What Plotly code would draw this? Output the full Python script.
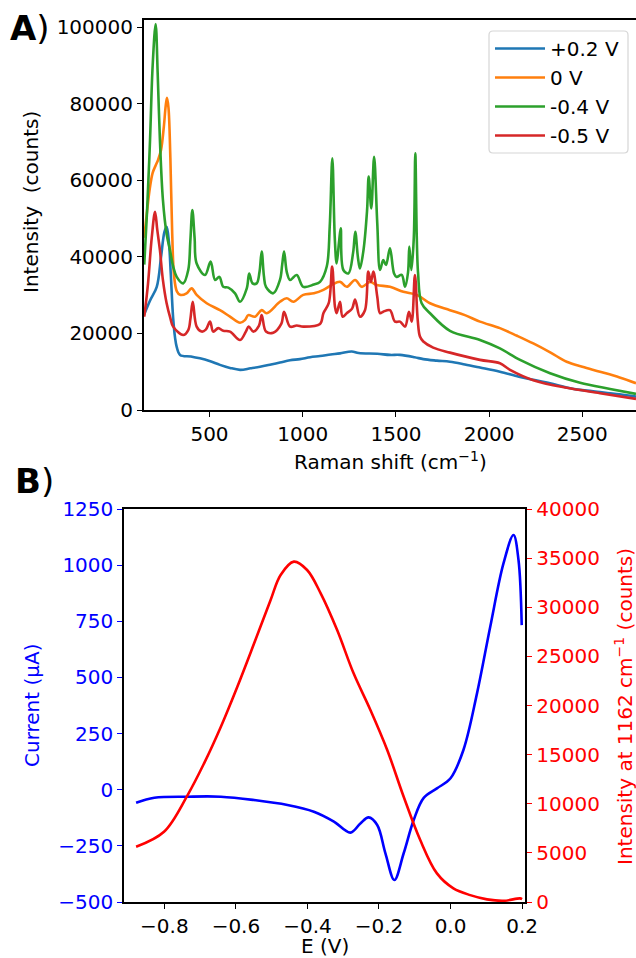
import plotly.graph_objects as go

# ---------------- Panel A data (Raman spectra) ----------------
shift_blue = [150, 180, 217, 240, 258, 270, 282, 292, 305, 315, 324, 342, 400, 449, 500, 556, 610, 664,
              720, 771, 830, 878, 932, 985, 1040, 1093, 1150, 1200, 1263, 1300, 1400, 1468, 1522,
              1600, 1647, 1720, 1790, 1870, 1951, 2058, 2160, 2237, 2327, 2416, 2500, 2595, 2700, 2788]
int_blue = [25000, 28500, 32200, 40000, 46500, 47900, 44000, 35800, 24000, 19000, 16500, 14400, 14000,
            13500, 12800, 11800, 11000, 10500, 10900, 11300, 11900, 12400, 13000, 13300, 13800, 14100,
            14500, 14800, 15300, 14900, 14700, 14400, 14400, 13800, 13300, 12900, 12600, 11900, 11100,
            10000, 8700, 7900, 7000, 5900, 5200, 4700, 4100, 3500]

shift_orange = [150, 165, 180, 195, 211, 225, 240, 255, 265, 272, 280, 290, 300, 310, 325, 342, 377, 404,
                431, 485, 556, 610, 664, 690, 708, 744, 780, 807, 878, 914, 950, 1003, 1060, 1111, 1156,
                1200, 1236, 1281, 1317, 1361, 1397, 1468, 1540, 1612, 1683, 1790, 1870, 1951, 2058, 2150,
                2237, 2330, 2416, 2500, 2595, 2700, 2788]
int_orange = [45000, 52000, 58000, 62000, 63900, 65500, 68000, 74000, 79500, 81600, 79000, 66000, 46000,
              35000, 31000, 30100, 30500, 31800, 30100, 27900, 26100, 24400, 22800, 23500, 24800, 24400,
              26100, 25300, 28300, 29200, 28300, 30100, 30500, 31400, 32700, 33500, 32200, 34000, 32200,
              33500, 32700, 32200, 30900, 30100, 27900, 26100, 24800, 23100, 21400, 19400, 17400, 15000,
              12600, 11300, 10000, 8500, 7000]

shift_green = [150, 165, 181, 195, 211, 222, 234, 250, 270, 288, 305, 324, 359, 386, 397, 408, 420, 431,
               476, 506, 530, 553, 574, 601, 637, 664, 700, 713, 731, 753, 768, 780, 792, 803, 842, 878,
               890, 900, 915, 932, 968, 1003, 1060, 1093, 1129, 1145, 1159, 1172, 1182, 1195, 1204, 1218,
               1245, 1270, 1282, 1296, 1307, 1325, 1345, 1354, 1368, 1383, 1400, 1415, 1432, 1447, 1468,
               1490, 1504, 1531, 1549, 1565, 1572, 1583, 1596, 1604, 1612, 1619, 1638, 1683, 1790, 1951,
               2058, 2166, 2327, 2488, 2649, 2788]
int_green = [38000, 52000, 70600, 90000, 100900, 88000, 70600, 55000, 46000, 41800, 37500, 34800, 33100,
             36600, 44000, 52300, 45000, 38300, 35300, 38800, 34000, 34800, 32200, 32000, 30500, 28300,
             31800, 35700, 33100, 33100, 36000, 41400, 35000, 32200, 30500, 34000, 38000, 41400, 36000,
             34000, 35300, 32200, 32800, 33500, 37500, 48000, 65800, 45000, 38300, 44000, 47500, 36600,
             35700, 41000, 46600, 40000, 37000, 41400, 52000, 61000, 52700, 66200, 48800, 36600, 39200,
             37900, 42300, 35700, 34800, 35300, 32200, 36000, 42700, 36600, 45000, 67100, 45000, 35700,
             27900, 25300, 20700, 18300, 16100, 13100, 9600, 7100, 5500, 4200]

shift_red = [150, 170, 190, 208, 220, 234, 250, 270, 290, 305, 359, 386, 398, 410, 431, 458, 480, 503,
             520, 547, 574, 610, 664, 695, 710, 735, 765, 780, 803, 842, 885, 900, 932, 968, 1003, 1093,
             1111, 1140, 1158, 1173, 1182, 1200, 1214, 1236, 1265, 1281, 1307, 1334, 1352, 1366, 1379,
             1400, 1415, 1432, 1468, 1495, 1522, 1549, 1570, 1585, 1602, 1617, 1629, 1647, 1700, 1790,
             1951, 2058, 2112, 2237, 2416, 2595, 2788]
int_red = [24400, 33000, 45000, 51800, 47000, 41800, 34000, 27900, 24000, 21800, 19600, 20900, 24000,
           28300, 21800, 20500, 21000, 23100, 20500, 21400, 20700, 20500, 18300, 20500, 21800, 20500,
           22000, 24800, 20500, 20200, 22500, 25700, 21800, 22100, 21800, 22500, 25300, 28000, 37500,
           27000, 25300, 28300, 24400, 25300, 26500, 28900, 24400, 26100, 36200, 33500, 36200, 29600,
           25300, 25700, 26100, 23100, 23100, 21800, 25700, 23100, 35300, 23500, 19200, 17900, 16300,
           15000, 13100, 12200, 10500, 7800, 5800, 4400, 2900]

spectra = [("+0.2 V", shift_blue, int_blue, "#1f77b4"),
           ("0 V", shift_orange, int_orange, "#ff7f0e"),
           ("-0.4 V", shift_green, int_green, "#2ca02c"),
           ("-0.5 V", shift_red, int_red, "#d62728")]

# ---------------- Panel B data ----------------
E_current = [-0.879, -0.828, -0.735, -0.642, -0.549, -0.456, -0.382, -0.326, -0.280, -0.252, -0.229,
             -0.205, -0.182, -0.157, -0.131, -0.103, -0.075, -0.038, 0.0, 0.036, 0.074, 0.111, 0.148,
             0.176, 0.190, 0.199]
current_uA = [-58, -36, -31, -31, -46, -68, -98, -142, -191, -150, -123, -157, -283, -402, -283, -135,
              -36, 6, 51, 177, 429, 726, 1008, 1134, 1023, 733]

E_raman = [-0.879, -0.801, -0.735, -0.689, -0.642, -0.596, -0.549, -0.503, -0.475, -0.438, -0.401,
           -0.363, -0.317, -0.271, -0.224, -0.177, -0.131, -0.085, -0.038, 0.008, 0.055, 0.102, 0.148,
           0.194, 0.200]
intensity_1162 = [5623, 7150, 10885, 14110, 17840, 21910, 26330, 30740, 33280, 34640, 33790, 31420,
                  27680, 23270, 19540, 15470, 10710, 6330, 2910, 1390, 700, 270, 120, 370, 300]

FONT = "DejaVu Sans"
W, H = 636, 958

fig = go.Figure()
for name, xs, ys, col in spectra:
    fig.add_trace(go.Scatter(x=xs, y=ys, mode="lines", name=name, line=dict(color=col, width=2.6),
                             line_shape="spline", xaxis="x", yaxis="y"))

fig.add_trace(go.Scatter(x=E_current, y=current_uA, mode="lines", line=dict(color="blue", width=2.6),
                         line_shape="spline", showlegend=False, xaxis="x2", yaxis="y2"))
fig.add_trace(go.Scatter(x=E_raman, y=intensity_1162, mode="lines", line=dict(color="red", width=2.6),
                         line_shape="spline", showlegend=False, xaxis="x2", yaxis="y3"))

axis_common = dict(showgrid=False, zeroline=False, ticks="outside", ticklen=5, tickwidth=1.2,
                   linewidth=2, linecolor="black", automargin=False)

fig.update_layout(
    width=W, height=H, margin=dict(l=0, r=0, t=0, b=0, autoexpand=False),
    paper_bgcolor="white", plot_bgcolor="white",
    font=dict(family=FONT, size=20, color="black"),
    xaxis=dict(domain=[144 / W, 1.0], range=[148.6, 2788], tickvals=[500, 1000, 1500, 2000, 2500],
               showline=True, mirror=True, anchor="y", tickcolor="black",
               ticklabelposition="outside", ticklabelstandoff=0, **axis_common),
    yaxis=dict(domain=[1 - 410 / H, 1 - 20 / H], range=[0, 101950],
               tickvals=[0, 20000, 40000, 60000, 80000, 100000], tickformat="d",
               showline=True, anchor="x", tickcolor="black", **axis_common),
    xaxis2=dict(domain=[124.3 / W, 525.3 / W], range=[-0.912, 0.209],
                tickvals=[-0.8, -0.6, -0.4, -0.2, 0.0, 0.2], tickformat=".1f",
                showline=True, mirror=True, anchor="y2", tickcolor="black",
                ticklabelposition="outside", ticklabelstandoff=0, **axis_common),
    yaxis2=dict(domain=[1 - 902 / H, 1 - 509 / H], range=[-500, 1250],
                tickvals=[-500, -250, 0, 250, 500, 750, 1000, 1250],
                showline=True, anchor="x2", tickcolor="blue", tickfont=dict(color="blue"),
                **axis_common),
    yaxis3=dict(domain=[1 - 902 / H, 1 - 509 / H], range=[0, 40000], overlaying="y2", side="right",
                tickvals=[0, 5000, 10000, 15000, 20000, 25000, 30000, 35000, 40000], tickformat="d",
                showline=True, anchor="x2", tickcolor="red", tickfont=dict(color="red"),
                **axis_common),
    legend=dict(x=490 / W, y=1 - 29 / H, xanchor="left", yanchor="top",
                bgcolor="rgba(255,255,255,0)", borderwidth=0,
                font=dict(size=20, family=FONT), tracegroupgap=0, itemwidth=50),
)

# legend frame (rounded, semi-opaque, like matplotlib's)
x0, x1 = 489 / W, 628 / W
y0, y1 = 1 - 153 / H, 1 - 31 / H
rx, ry = 4 / W, 4 / H
frame = (f"M{x0 + rx},{y1} L{x1 - rx},{y1} Q{x1},{y1} {x1},{y1 - ry} L{x1},{y0 + ry} "
         f"Q{x1},{y0} {x1 - rx},{y0} L{x0 + rx},{y0} Q{x0},{y0} {x0},{y0 + ry} "
         f"L{x0},{y1 - ry} Q{x0},{y1} {x0 + rx},{y1} Z")
fig.add_shape(type="path", path=frame, xref="paper", yref="paper",
              line=dict(color="#d6d6d6", width=1.2), fillcolor="rgba(255,255,255,0.8)", layer="above")

ann = [
    dict(text="<b>A</b>)", x=8 / W, y=1 - 28 / H, xanchor="left", yanchor="middle", font=dict(size=34)),
    dict(text="<b>B</b>)", x=13 / W, y=1 - 481 / H, xanchor="left", yanchor="middle", font=dict(size=34)),
    dict(text="Intensity  (counts)", x=31 / W, y=1 - 202 / H, textangle=-90, xanchor="center",
         yanchor="middle", font=dict(size=20)),
    dict(text="Raman shift (cm<sup>\u22121</sup>)", x=390 / W, y=1 - 461 / H, xanchor="center",
         yanchor="middle", font=dict(size=20)),
    dict(text="Current (\u03bcA)", x=32 / W, y=1 - 705 / H, textangle=-90, xanchor="center",
         yanchor="middle", font=dict(size=20, color="blue")),
    dict(text="Intensity at 1162 cm<sup>\u22121</sup> (counts)", x=624 / W, y=1 - 707 / H, textangle=-90,
         xanchor="center", yanchor="middle", font=dict(size=20, color="red")),
    dict(text="E (V)", x=325 / W, y=1 - 946 / H, xanchor="center", yanchor="middle", font=dict(size=20)),
]
for a in ann:
    a.update(xref="paper", yref="paper", showarrow=False)
fig.update_layout(annotations=ann)

fig.write_html("out.html")
